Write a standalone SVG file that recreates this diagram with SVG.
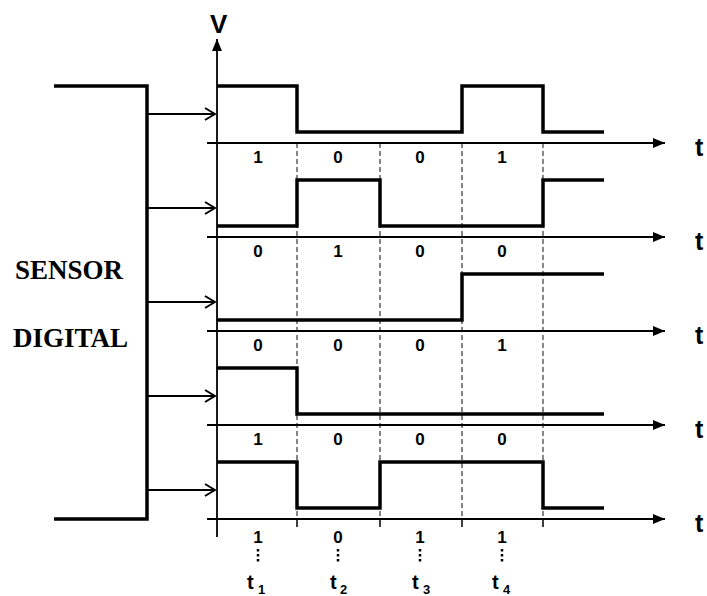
<svg xmlns="http://www.w3.org/2000/svg" width="707" height="596" viewBox="0 0 707 596">
<style>
.wave{fill:none;stroke:#000;stroke-width:3.5;stroke-linejoin:miter}
.axis{fill:none;stroke:#000;stroke-width:1.8}
.grid{fill:none;stroke:#444;stroke-width:1.3;stroke-dasharray:5 3}
.arr{fill:none;stroke:#000;stroke-width:1.8}
.dig{font-family:"Liberation Sans",Arial,sans-serif;font-size:17px;font-weight:bold;text-anchor:middle;fill:#000}
.tl{font-family:"Liberation Sans",Arial,sans-serif;font-size:25px;font-weight:bold;fill:#000}
.sub{font-family:"Liberation Sans",Arial,sans-serif;font-size:13px;font-weight:bold;fill:#000}
.big{font-family:"Liberation Serif","Times New Roman",serif;font-size:27px;font-weight:bold;fill:#000}
</style>
<defs>
<marker id="tri" viewBox="0 0 12 10" refX="12" refY="5" markerWidth="12" markerHeight="10" markerUnits="userSpaceOnUse" orient="auto">
<path d="M0,0 L12,5 L0,10 Z" fill="#000"/>
</marker>
<marker id="chev" viewBox="0 0 12 14" refX="11" refY="7" markerWidth="12" markerHeight="14" markerUnits="userSpaceOnUse" orient="auto">
<path d="M1,1 L11,7 L1,13" fill="none" stroke="#000" stroke-width="2"/>
</marker>
</defs>

<g id="grid">
<line class="grid" x1="297" y1="143" x2="297" y2="519"/>
<line class="grid" x1="380" y1="143" x2="380" y2="519"/>
<line class="grid" x1="462" y1="143" x2="462" y2="519"/>
<line class="grid" x1="543" y1="143" x2="543" y2="519"/>
<path d="M297,519 V527 M380,519 V527 M462,519 V527 M543,519 V527" stroke="#000" stroke-width="1.5"/>
</g>

<g id="v-axis">
<line class="axis" x1="217" y1="537" x2="217" y2="39" marker-end="url(#tri)"/>
<text class="tl" x="210" y="33" style="font-size:26px">V</text>
</g>

<g id="sensor">
<path class="wave" d="M54,86 H147 V519 H54"/>
<text class="big" x="15" y="279">SENSOR</text>
<text class="big" x="13" y="347">DIGITAL</text>
</g>

<g id="connectors">
<line class="arr" x1="147" y1="114" x2="215" y2="114" marker-end="url(#chev)"/>
<line class="arr" x1="147" y1="208" x2="215" y2="208" marker-end="url(#chev)"/>
<line class="arr" x1="147" y1="302" x2="215" y2="302" marker-end="url(#chev)"/>
<line class="arr" x1="147" y1="396" x2="215" y2="396" marker-end="url(#chev)"/>
<line class="arr" x1="147" y1="490" x2="215" y2="490" marker-end="url(#chev)"/>
</g>

<g id="signal1">
<line class="axis" x1="207" y1="143" x2="665" y2="143" marker-end="url(#tri)"/>
<path class="wave" d="M217,86 H297 V132 H462 V86 H543 V132 H604"/>
<text class="tl" x="695" y="156">t</text>
<text class="dig" x="258" y="163">1</text><text class="dig" x="338" y="163">0</text><text class="dig" x="420" y="163">0</text><text class="dig" x="502" y="163">1</text>
</g>

<g id="signal2">
<line class="axis" x1="207" y1="237" x2="665" y2="237" marker-end="url(#tri)"/>
<path class="wave" d="M217,226 H297 V180 H380 V226 H543 V180 H604"/>
<text class="tl" x="695" y="250">t</text>
<text class="dig" x="258" y="257">0</text><text class="dig" x="338" y="257">1</text><text class="dig" x="420" y="257">0</text><text class="dig" x="502" y="257">0</text>
</g>

<g id="signal3">
<line class="axis" x1="207" y1="331" x2="665" y2="331" marker-end="url(#tri)"/>
<path class="wave" d="M217,320 H462 V274 H604"/>
<text class="tl" x="695" y="344">t</text>
<text class="dig" x="258" y="351">0</text><text class="dig" x="338" y="351">0</text><text class="dig" x="420" y="351">0</text><text class="dig" x="502" y="351">1</text>
</g>

<g id="signal4">
<line class="axis" x1="207" y1="425" x2="665" y2="425" marker-end="url(#tri)"/>
<path class="wave" d="M217,368 H297 V414 H604"/>
<text class="tl" x="695" y="438">t</text>
<text class="dig" x="258" y="445">1</text><text class="dig" x="338" y="445">0</text><text class="dig" x="420" y="445">0</text><text class="dig" x="502" y="445">0</text>
</g>

<g id="signal5">
<line class="axis" x1="207" y1="519" x2="665" y2="519" marker-end="url(#tri)"/>
<path class="wave" d="M217,462 H297 V508 H380 V462 H543 V508 H604"/>
<text class="tl" x="695" y="532">t</text>
<text class="dig" x="258" y="543">1</text><text class="dig" x="338" y="543">0</text><text class="dig" x="420" y="543">1</text><text class="dig" x="502" y="543">1</text>
</g>

<g id="time-marks">
<path d="M258,549 V564 M338,549 V564 M420,549 V564 M502,549 V564" stroke="#000" stroke-width="2.5" stroke-dasharray="2.5 2.5"/>
<text class="tl" x="247" y="589" style="font-size:20px">t</text><text class="sub" x="258" y="594">1</text>
<text class="tl" x="330" y="589" style="font-size:20px">t</text><text class="sub" x="340" y="594">2</text>
<text class="tl" x="412" y="589" style="font-size:20px">t</text><text class="sub" x="423" y="594">3</text>
<text class="tl" x="492" y="589" style="font-size:20px">t</text><text class="sub" x="503" y="594">4</text>
</g>
</svg>
